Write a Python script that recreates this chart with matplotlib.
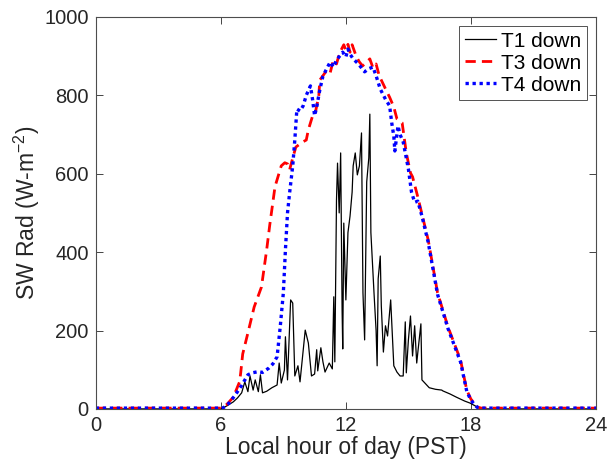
import matplotlib
matplotlib.use('Agg')
import matplotlib.pyplot as plt

plt.rcParams['font.family'] = ['Liberation Sans', 'DejaVu Sans']

# T1 down (black)
t1_hour = [0, 6.0, 6.3, 6.6, 6.8, 7.0, 7.15, 7.3, 7.4, 7.55, 7.65, 7.8, 7.9, 8.0, 8.2, 8.45,
           8.7, 8.8, 8.9, 9.05, 9.1, 9.2, 9.35, 9.45, 9.55, 9.7, 9.8, 10.05, 10.2, 10.35, 10.5,
           10.6, 10.65, 10.8, 10.9, 11.0, 11.2, 11.35, 11.42, 11.47, 11.55, 11.6, 11.68, 11.75,
           11.82, 11.85, 11.9, 12.0, 12.1, 12.2, 12.3, 12.35, 12.45, 12.55, 12.65, 12.75,
           12.82, 12.9, 13.0, 13.1, 13.15, 13.2, 13.35, 13.45, 13.5, 13.55, 13.65, 13.7,
           13.8, 13.9, 14.0, 14.15, 14.3, 14.45, 14.6, 14.75, 14.85, 14.9, 15.0, 15.1, 15.2,
           15.3, 15.4, 15.45, 15.6, 15.65, 16.0, 16.3, 16.6, 16.65, 17.0, 17.3, 17.7, 17.95,
           18.3, 18.5, 24]
t1_down = [0, 0, 8, 18, 28, 41, 69, 44, 84, 48, 74, 44, 87, 41, 45, 54,
           61, 117, 66, 99, 184, 74, 278, 270, 84, 110, 69, 201, 168, 84, 89,
           151, 97, 156, 120, 94, 117, 102, 286, 120, 533, 627, 500, 653,
           250, 153, 474, 278, 450, 492, 553, 620, 653, 597, 620, 704,
           296, 176, 579, 640, 752, 450, 296, 200, 110, 332, 390, 263,
           145, 212, 186, 278, 110, 94, 84, 84, 222, 92, 176, 237, 135,
           212, 117, 143, 217, 74, 54, 50, 48, 46, 38, 30, 20, 15,
           5, 0, 0]

# T3 down (red)
t3_hour = [0, 6.0, 6.3, 6.6, 6.9, 6.95, 7.05, 7.3, 7.6, 7.95, 8.2, 8.35, 8.6, 8.9, 9.07, 9.2,
           9.3, 9.45, 9.6, 9.9, 10.1, 10.2, 10.4, 10.55, 10.7, 10.75, 10.9, 11.1, 11.25, 11.4,
           11.55, 11.7, 11.9, 12.0, 12.1, 12.2, 12.3, 12.5, 12.65, 12.8, 13.0, 13.15, 13.3,
           13.45, 13.6, 13.95, 14.1, 14.3, 14.45, 14.7, 14.9, 15.1, 15.2, 15.45, 15.8, 15.95,
           16.4, 16.9, 17.5, 17.8, 18.0, 18.3, 18.5, 24]
t3_down = [2, 2, 12, 30, 69, 90, 140, 194, 260, 311, 406, 470, 567, 620, 628, 625,
           610, 640, 668, 680, 686, 712, 747, 760, 798, 839, 850, 865, 858, 890,
           880, 908, 929, 915, 930, 910, 929, 899, 885, 875, 885, 893, 870,
           880, 850, 811, 795, 770, 740, 730, 653, 602, 592, 541, 464, 431,
           296, 209, 125, 48, 25, 5, 2, 2]

# T4 down (blue)
t4_hour = [0, 6.1, 6.4, 6.7, 7.0, 7.3, 7.5, 7.8, 8.0, 8.3, 8.5, 8.7, 8.85, 9.0, 9.1, 9.2,
           9.3, 9.45, 9.55, 9.65, 9.8, 9.95, 10.1, 10.3, 10.4, 10.5, 10.6, 10.75, 10.9,
           11.15, 11.25, 11.4, 11.55, 11.85, 12.0, 12.1, 12.2, 12.35, 12.6, 12.9, 13.1,
           13.3, 13.45, 13.65, 13.9, 14.1, 14.2, 14.3, 14.35, 14.5, 14.6, 14.75, 15.0, 15.15,
           15.3, 15.45, 15.65, 15.95, 16.4, 16.9, 17.5, 17.8, 18.0, 18.3, 18.5, 24]
t4_down = [2, 2, 15, 36, 60, 87, 92, 95, 93, 104, 115, 133, 209, 296, 406, 500,
           551, 620, 686, 765, 760, 773, 800, 824, 790, 748, 770, 814, 849,
           875, 885, 872, 890, 910, 898, 918, 905, 893, 880, 860, 868,
           872, 850, 816, 790, 773, 730, 696, 658, 722, 700, 681, 612, 553,
           527, 530, 492, 425, 292, 205, 120, 45, 22, 4, 2, 2]

txt = '#262626'
fig = plt.figure(figsize=(6.1, 4.7), dpi=100)
ax = fig.add_axes([0.157, 0.130, 0.820, 0.834])

ax.plot(t1_hour, t1_down, color='k', lw=0.9, label='T1 down')
ax.plot(t3_hour, t3_down, color='red', lw=2, linestyle=(0, (3.7, 2.2)), label='T3 down')
ax.plot(t4_hour, t4_down, color='blue', lw=2.4, linestyle=(0, (1, 1.1)),
        dash_capstyle='butt', label='T4 down')

ax.set_xlim(0, 24)
ax.set_ylim(0, 1000)
ax.set_xticks([0, 6, 12, 18, 24])
ax.set_yticks(range(0, 1001, 200))
ax.tick_params(direction='in', top=True, right=True, labelsize=14.5, colors=txt,
               length=5, width=0.6, pad=5)
for s in ax.spines.values():
    s.set_color('0.3')
    s.set_linewidth(0.8)

ax.set_xlabel('Local hour of day (PST)', fontsize=16.5, color=txt, labelpad=1)
ax.set_ylabel(r'SW Rad (W-m$^{\mathregular{-2}}$)', fontsize=16.5, color=txt, labelpad=2)

leg = ax.legend(loc='upper right', fontsize=15, frameon=True, fancybox=False,
                edgecolor='0.15', handlelength=1.5, handletextpad=0.25,
                borderpad=0.25, labelspacing=0.15, borderaxespad=0.45)
leg.get_frame().set_linewidth(0.7)
for t in leg.get_texts():
    t.set_color('k')

fig.savefig('out.png', dpi=100)
